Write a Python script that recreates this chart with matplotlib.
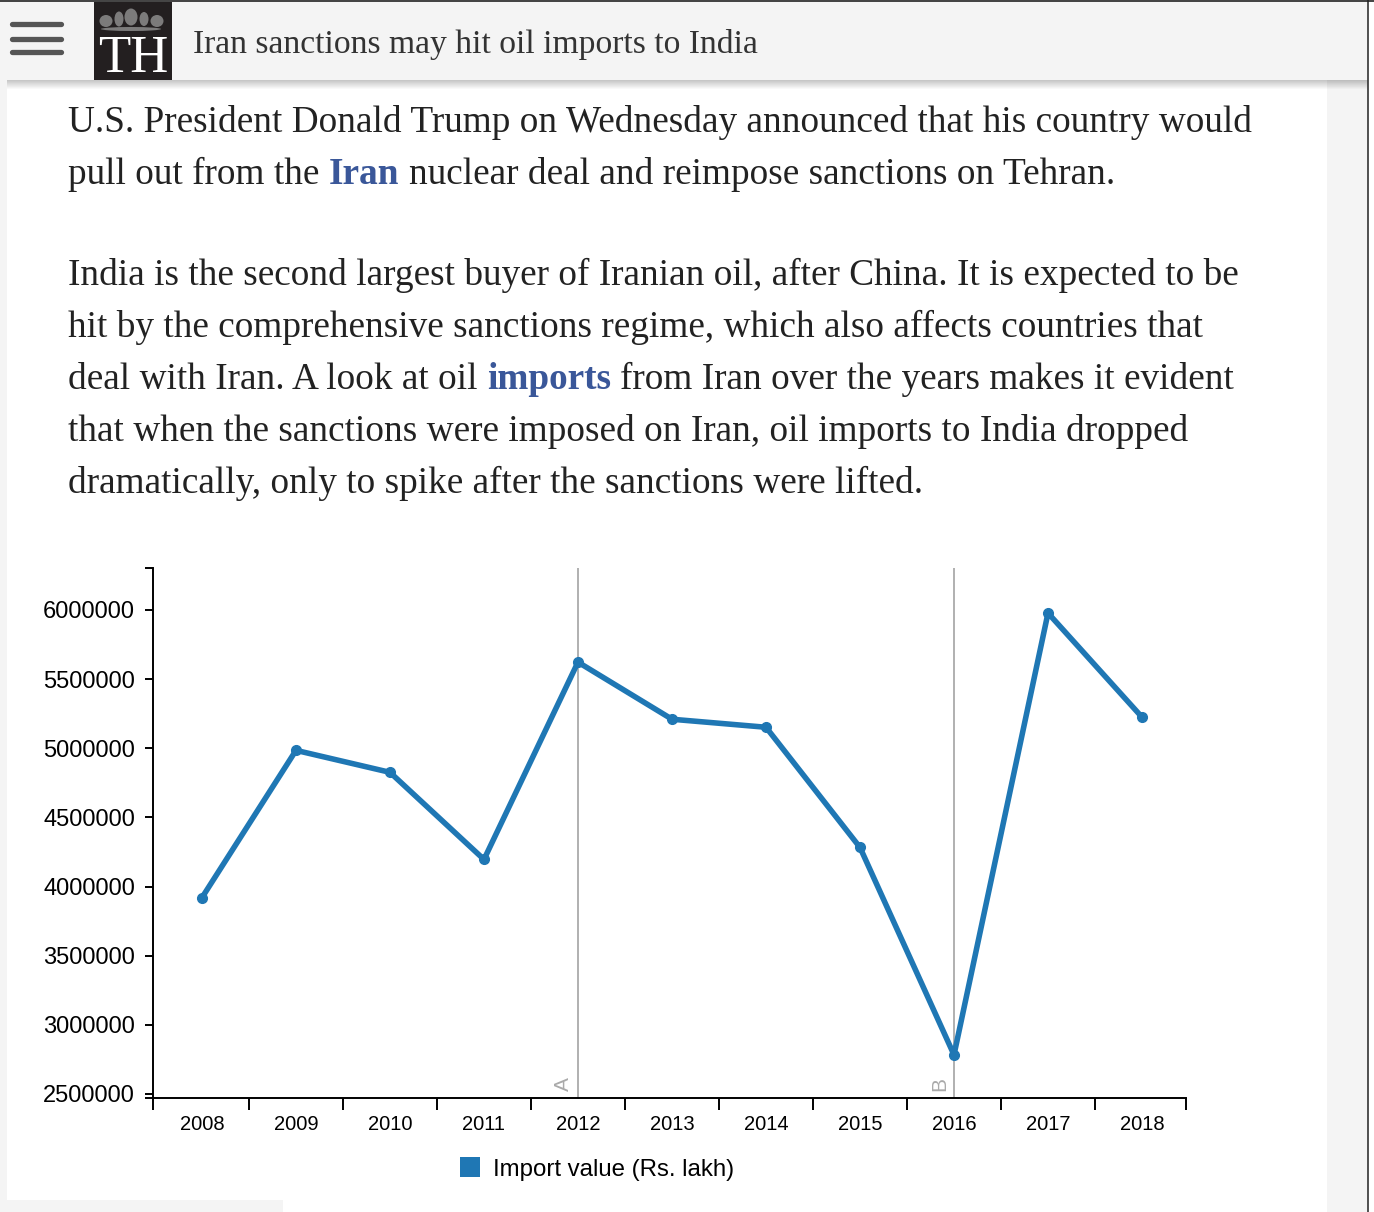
import matplotlib
matplotlib.use("Agg")
import matplotlib.pyplot as plt
import matplotlib.transforms as mtransforms
from matplotlib.patches import Rectangle, Ellipse

# data
years = ["2008", "2009", "2010", "2011", "2012", "2013", "2014", "2015", "2016", "2017", "2018"]
import_value = [3920000, 4985000, 4826000, 4196000, 5623000, 5210000, 5152000,
                4283000, 2783000, 5978000, 5225000]
y_ticks = [2500000, 3000000, 3500000, 4000000, 4500000, 5000000, 5500000, 6000000]
grid_years = ["2012", "2016"]
grid_labels = ["A", "B"]
legend_label = "Import value (Rs. lakh)"

page_title = "Iran sanctions may hit oil imports to India"
para_lines = [
    [("U.S. President Donald Trump on Wednesday announced that his country would", False)],
    [("pull out from the ", False), ("Iran", True), (" nuclear deal and reimpose sanctions on Tehran.", False)],
    [("India is the second largest buyer of Iranian oil, after China. It is expected to be", False)],
    [("hit by the comprehensive sanctions regime, which also affects countries that", False)],
    [("deal with Iran. A look at oil ", False), ("imports", True), (" from Iran over the years makes it evident", False)],
    [("that when the sanctions were imposed on Iran, oil imports to India dropped", False)],
    [("dramatically, only to spike after the sanctions were lifted.", False)],
]
baselines = [132, 184, 285, 337, 389, 441, 493]

W, H = 1374, 1212
blue = "#1f77b4"
serif = "Liberation Serif"
sans = "Liberation Sans"

fig = plt.figure(figsize=(W / 100, H / 100), dpi=100)
bg = fig.add_axes([0, 0, 1, 1], zorder=0)
bg.set_xlim(0, W)
bg.set_ylim(H, 0)
bg.axis("off")

# page chrome
bg.add_patch(Rectangle((0, 0), 7, H, color="#f4f4f4", lw=0))
bg.add_patch(Rectangle((1327, 80), 41, H, color="#f4f4f4", lw=0))
bg.add_patch(Rectangle((0, 1200), 283, 12, color="#f4f4f4", lw=0))
bg.plot([1367.5, 1367.5], [0, H], color="#333333", lw=1.2)
for i in range(9):
    bg.add_patch(Rectangle((7, 80 + i), 1361, 1, color="black", alpha=0.22 * (1 - i / 9), lw=0))
bg.add_patch(Rectangle((7, 0), 1361, 80, color="#f4f4f4", lw=0))
bg.plot([0, W], [0.5, 0.5], color="#222222", lw=1.2)

# hamburger
for yy in [24, 38.5, 52]:
    bg.plot([12, 61], [yy, yy], color="#555555", lw=3.8, solid_capstyle="round")

# logo
bg.add_patch(Rectangle((94, 2), 78, 78, color="#231f20", lw=0))
for ex, ey, ew, eh in [(106, 21, 13, 12), (119, 19, 9, 15), (131, 17, 13, 17),
                       (144, 19, 9, 14), (157, 21, 13, 12), (131, 29, 60, 4)]:
    bg.add_patch(Ellipse((ex, ey), ew, eh, color="#8c8c8c", lw=0, alpha=0.85))
bg.text(133, 72, "TH", color="white", family=serif, fontsize=38, ha="center", va="baseline")

fig.canvas.draw()
renderer = fig.canvas.get_renderer()


def text_width(s, **kw):
    t = bg.text(0, 0, "|" + s + "|", **kw)
    t2 = bg.text(0, 0, "||", **kw)
    w = t.get_window_extent(renderer).width - t2.get_window_extent(renderer).width
    t.remove()
    t2.remove()
    return w


# title
fs_t = 22 * 564 / text_width(page_title, family=serif, fontsize=22)
bg.text(193, 53, page_title, family=serif, fontsize=fs_t, color="#333333", va="baseline")

# body text
fs_b = 26 * 1184 / text_width(para_lines[0][0][0], family=serif, fontsize=26)
for runs, yb in zip(para_lines, baselines):
    x = 68
    for s, bold in runs:
        kw = dict(family=serif, fontsize=fs_b, fontweight="bold" if bold else "normal")
        lead = len(s) - len(s.lstrip(" "))
        trail = len(s) - len(s.rstrip(" "))
        sp = text_width(" ", **kw)
        core = s.strip(" ")
        x += lead * sp
        bg.text(x, yb, core, color="#3a5799" if bold else "#222222", va="baseline", ha="left", **kw)
        x += text_width(core, **kw) + trail * sp

# legend
bg.add_patch(Rectangle((460, 1157), 20, 20, color=blue, lw=0))
bg.text(493, 1176, legend_label, family=sans, fontsize=17.3, color="black", va="baseline")

# chart
left, right, top, bottom = 153, 1186, 568, 1098
ax = fig.add_axes([left / W, 1 - bottom / H, (right - left) / W, (bottom - top) / H], zorder=1)
ax.patch.set_alpha(0)
xs = list(range(len(years)))
x_lo, x_hi = -0.521, 10.468
y_lo, y_hi = 2471000, 6303700
ax.set_xlim(x_lo, x_hi)
ax.set_ylim(y_lo, y_hi)

for gy, gl in zip(grid_years, grid_labels):
    gx = years.index(gy)
    ax.axvline(gx, color="#aaaaaa", lw=1.3, zorder=1)
    tr = mtransforms.offset_copy(ax.transData, fig=fig, x=-5, y=7, units="dots")
    ax.text(gx, y_lo, gl, rotation=90, ha="right", va="bottom", color="#aaaaaa",
            family=sans, fontsize=15, transform=tr)

ax.plot(xs, import_value, color=blue, lw=4, marker="o", markersize=7, zorder=3,
        solid_joinstyle="round")

for s in ["top", "right"]:
    ax.spines[s].set_visible(False)
for s in ["left", "bottom"]:
    ax.spines[s].set_linewidth(1.4)

ax.set_xticks(xs)
ax.set_xticklabels(years, family=sans, fontsize=14.5)
ax.set_xticks([x_lo] + [i + 0.5 for i in range(10)] + [x_hi], minor=True)
ax.tick_params(axis="x", which="major", length=0, pad=12)
ax.tick_params(axis="x", which="minor", length=8.5, width=1.4, direction="out")

ax.set_yticks(y_ticks)
ax.set_yticklabels([str(v) for v in y_ticks], family=sans, fontsize=17)
ax.set_yticks([y_lo, y_hi], minor=True)
ax.tick_params(axis="y", which="major", length=5.8, width=1.4, pad=7)
ax.tick_params(axis="y", which="minor", length=5.8, width=1.4)

fig.savefig("out.png", dpi=100)
